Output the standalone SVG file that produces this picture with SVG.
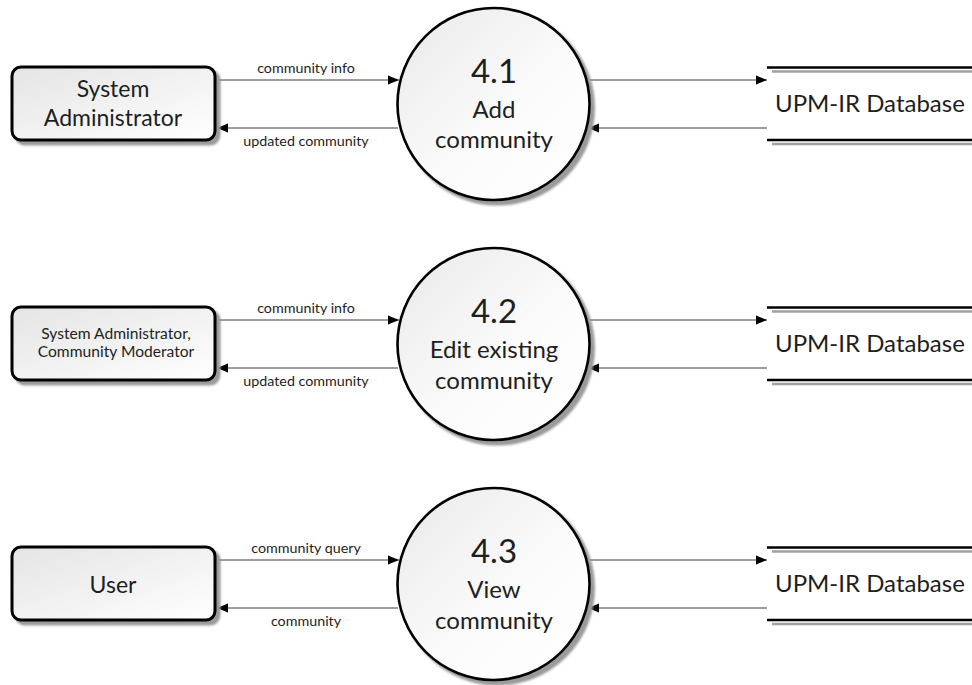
<svg xmlns="http://www.w3.org/2000/svg" width="972" height="685" viewBox="0 0 972 685">
  <style>
    text { font-family: Lato, "Open Sans", "DejaVu Sans", sans-serif; fill: #1e1e1e; text-anchor: middle; }
    .ent { fill: url(#boxFill); stroke: #000; stroke-width: 3; }
    .proc { fill: url(#circFill); stroke: #000; stroke-width: 2.6; }
    .shadow { fill: #9a9a9a; stroke: #9a9a9a; stroke-width: 3; filter: url(#soft); }
    .store-line { stroke: #000; stroke-width: 2.6; }
    .store-shadow { stroke: #a0a0a0; stroke-width: 2.6; }
    .flow { stroke: #3a3a3a; stroke-width: 1; fill: none; }
    .fwd { marker-end: url(#head); }
    .lbl { font-size: 14.3px; }
    .num { font-size: 33px; }
    .pname { font-size: 24px; }
    .ename { font-size: 23px; }
    .ename-sm { font-size: 15.6px; }
    .sname { font-size: 24px; text-anchor: start; }
  </style>
  <defs>
    <linearGradient id="boxFill" x1="0" y1="0" x2="1" y2="1">
      <stop offset="0" stop-color="#e4e4e4"/>
      <stop offset="1" stop-color="#ffffff"/>
    </linearGradient>
    <linearGradient id="circFill" x1="0" y1="0" x2="1" y2="1">
      <stop offset="0" stop-color="#e9e9e9"/>
      <stop offset="0.6" stop-color="#fcfcfc"/>
      <stop offset="1" stop-color="#ffffff"/>
    </linearGradient>
    <filter id="soft" x="-10%" y="-10%" width="120%" height="120%">
      <feGaussianBlur stdDeviation="0.8"/>
    </filter>
    <marker id="head" markerUnits="userSpaceOnUse" markerWidth="12" markerHeight="10" refX="11" refY="5" orient="auto">
      <path d="M0,0.5 L11,5 L0,9.5 z" fill="#000"/>
    </marker>
  </defs>

  <!-- data flows -->
  <g id="flows">
    <!-- row 4.1 -->
    <line class="flow fwd" x1="216" y1="80" x2="399" y2="80"/>
    <line class="flow fwd" x1="398" y1="128" x2="217" y2="128"/>
    <line class="flow fwd" x1="590" y1="80" x2="767" y2="80"/>
    <line class="flow fwd" x1="767" y1="128" x2="588" y2="128"/>
    <text class="lbl" x="306" y="73">community info</text>
    <text class="lbl" x="306" y="146">updated community</text>
    <!-- row 4.2 -->
    <line class="flow fwd" x1="216" y1="320" x2="399" y2="320"/>
    <line class="flow fwd" x1="398" y1="368" x2="217" y2="368"/>
    <line class="flow fwd" x1="590" y1="320" x2="767" y2="320"/>
    <line class="flow fwd" x1="767" y1="368" x2="588" y2="368"/>
    <text class="lbl" x="306" y="313">community info</text>
    <text class="lbl" x="306" y="386">updated community</text>
    <!-- row 4.3 -->
    <line class="flow fwd" x1="216" y1="560" x2="399" y2="560"/>
    <line class="flow fwd" x1="398" y1="608" x2="217" y2="608"/>
    <line class="flow fwd" x1="590" y1="560" x2="767" y2="560"/>
    <line class="flow fwd" x1="767" y1="608" x2="588" y2="608"/>
    <text class="lbl" x="306" y="553">community query</text>
    <text class="lbl" x="306" y="626">community</text>
  </g>

  <!-- external entities -->
  <g id="sysadmin">
    <rect class="shadow" x="16" y="71" width="203" height="73" rx="9"/>
    <rect class="ent" x="12" y="67" width="203" height="73" rx="9"/>
    <text class="ename" x="113" y="97">System</text>
    <text class="ename" x="113" y="126">Administrator</text>
  </g>
  <g id="admin-moderator">
    <rect class="shadow" x="16" y="311" width="203" height="73" rx="9"/>
    <rect class="ent" x="12" y="307" width="203" height="73" rx="9"/>
    <text class="ename-sm" x="116" y="339">System Administrator,</text>
    <text class="ename-sm" x="116" y="357">Community Moderator</text>
  </g>
  <g id="user">
    <rect class="shadow" x="16" y="551" width="203" height="73" rx="9"/>
    <rect class="ent" x="12" y="547" width="203" height="73" rx="9"/>
    <text class="ename" x="113" y="593">User</text>
  </g>

  <!-- processes -->
  <g id="p4-1">
    <circle class="shadow" cx="497.5" cy="108" r="96"/>
    <circle class="proc" cx="493.5" cy="104" r="96"/>
    <text class="num" x="494" y="83">4.1</text>
    <text class="pname" x="494" y="118">Add</text>
    <text class="pname" x="494" y="148">community</text>
  </g>
  <g id="p4-2">
    <circle class="shadow" cx="497.5" cy="348" r="96"/>
    <circle class="proc" cx="493.5" cy="344" r="96"/>
    <text class="num" x="494" y="323">4.2</text>
    <text class="pname" x="494" y="358">Edit existing</text>
    <text class="pname" x="494" y="389">community</text>
  </g>
  <g id="p4-3">
    <circle class="shadow" cx="497.5" cy="588" r="96"/>
    <circle class="proc" cx="493.5" cy="584" r="96"/>
    <text class="num" x="494" y="563">4.3</text>
    <text class="pname" x="494" y="598">View</text>
    <text class="pname" x="494" y="629">community</text>
  </g>

  <!-- data stores -->
  <g id="store-1">
    <line class="store-shadow" x1="772" y1="71.5" x2="972" y2="71.5"/>
    <line class="store-shadow" x1="772" y1="144" x2="972" y2="144"/>
    <line class="store-line" x1="767" y1="67.5" x2="972" y2="67.5"/>
    <line class="store-line" x1="767" y1="140" x2="972" y2="140"/>
    <text class="sname" x="775" y="112">UPM-IR Database</text>
  </g>
  <g id="store-2">
    <line class="store-shadow" x1="772" y1="311.5" x2="972" y2="311.5"/>
    <line class="store-shadow" x1="772" y1="384" x2="972" y2="384"/>
    <line class="store-line" x1="767" y1="307.5" x2="972" y2="307.5"/>
    <line class="store-line" x1="767" y1="380" x2="972" y2="380"/>
    <text class="sname" x="775" y="352">UPM-IR Database</text>
  </g>
  <g id="store-3">
    <line class="store-shadow" x1="772" y1="551.5" x2="972" y2="551.5"/>
    <line class="store-shadow" x1="772" y1="624" x2="972" y2="624"/>
    <line class="store-line" x1="767" y1="547.5" x2="972" y2="547.5"/>
    <line class="store-line" x1="767" y1="620" x2="972" y2="620"/>
    <text class="sname" x="775" y="592">UPM-IR Database</text>
  </g>
</svg>
